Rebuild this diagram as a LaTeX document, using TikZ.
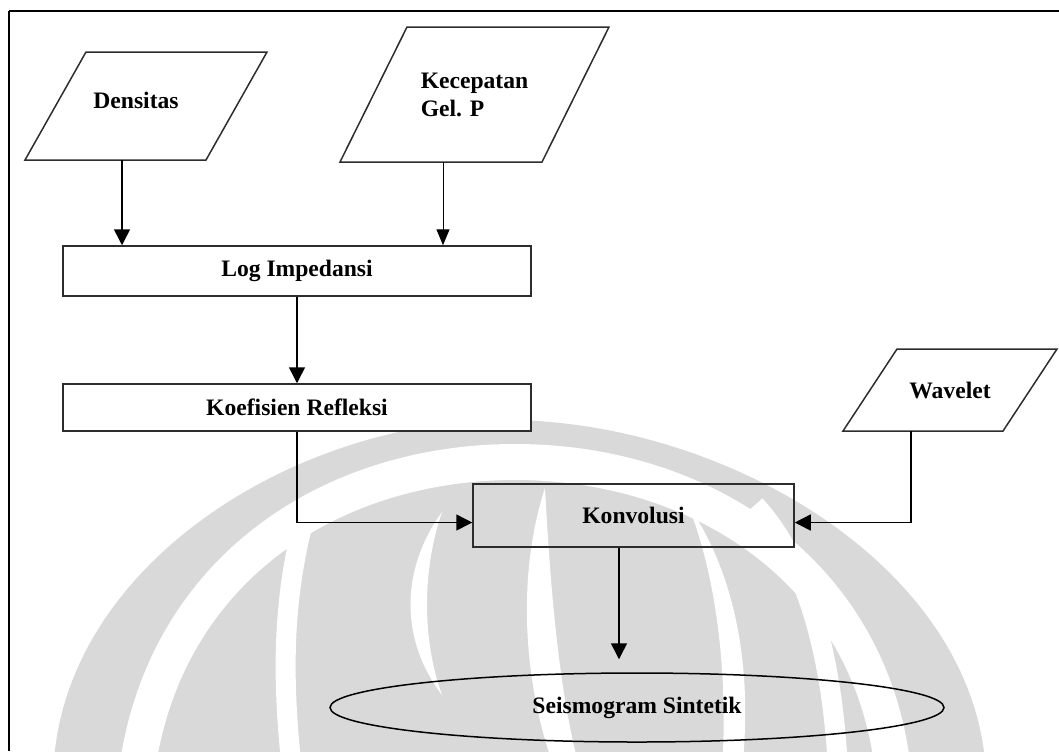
\documentclass[tikz,border=0pt]{standalone}
\usepackage{fontspec}
\setmainfont{Liberation Serif}
\usetikzlibrary{shapes.geometric,arrows.meta,calc}
\definecolor{wmgrey}{RGB}{217,217,217}
\definecolor{edgeline}{RGB}{45,45,45}

\begin{document}
\begin{tikzpicture}[x=0.5pt,y=-0.5pt,
  lbl/.style={font=\fontsize{11.8}{14}\selectfont\bfseries,text=black},
  box/.style={lbl,draw=edgeline,line width=0.75pt,rectangle,inner sep=0pt},
  paraframe/.style={lbl,rectangle,inner sep=0pt,outer sep=0pt,align=left},
  paraline/.style={draw=edgeline,line width=0.75pt,line join=miter},
  arr/.style={-{Triangle[length=8pt,width=8pt]},line width=0.75pt},
  thinarr/.style={-{Triangle[length=8pt,width=6.5pt]},line width=0.5pt},
  ]
\useasboundingbox (0,0) rectangle (1059,751);

% watermark logo in the background
\begin{scope}
\clip (0,0) rectangle (1059,751);
\fill[wmgrey] (54,760) .. controls (70,560) and (300,420) .. (505,420)
  .. controls (720,420) and (965,560) .. (985,760) -- cycle;
% outer white arch
\draw[white,line width=18pt] (137,770) .. controls (165,570) and (330,462) .. (515,462)
  .. controls (700,462) and (870,570) .. (893,770);
% side gaps
\draw[white,line width=10pt] (305,515) .. controls (282,600) and (282,680) .. (292,770);
\draw[white,line width=10pt] (755,505) .. controls (805,560) and (832,650) .. (838,770);
% inner crescents
\fill[white] (442,512) .. controls (400,570) and (400,640) .. (442,695)
  .. controls (422,640) and (422,570) .. (442,512) -- cycle;
\fill[white] (545,488) .. controls (515,580) and (525,690) .. (555,770)
  -- (580,770) .. controls (558,690) and (550,580) .. (545,488) -- cycle;
\fill[white] (688,505) .. controls (740,580) and (752,680) .. (742,770)
  -- (722,770) .. controls (728,680) and (718,580) .. (688,505) -- cycle;
\end{scope}

% frame
\draw[line width=1pt] (9,11) -- (1059,11);
\draw[line width=0.6pt] (9,11) -- (9,751);

% input data (parallelograms)
\node[paraframe,minimum width=121pt,minimum height=54pt,
  label={[lbl,name=densL,xshift=-5pt,yshift=3pt]center:Densitas}] (dens) at (146,106) {};
\draw[paraline] (dens.south west) -- ([xshift=30.5pt]dens.north west) -- (dens.north east)
  -- ([xshift=-30.5pt]dens.south east) -- cycle;

\node[paraframe,minimum width=134.5pt,minimum height=67.5pt] (kec) at (474.5,94.5) {Kecepatan\\Gel. P};
\draw[paraline] (kec.south west) -- ([xshift=33.5pt]kec.north west) -- (kec.north east)
  -- ([xshift=-33.5pt]kec.south east) -- cycle;

\node[paraframe,minimum width=107pt,minimum height=41pt] (wave) at (950,390) {Wavelet};
\draw[paraline] (wave.south west) -- ([xshift=27pt]wave.north west) -- (wave.north east)
  -- ([xshift=-27pt]wave.south east) -- cycle;

% processing steps
\node[box,fill=white,minimum width=234pt,minimum height=25pt] (logimp) at (297,271) {Log Impedansi};
\node[box,fill=white,minimum width=234pt,minimum height=23.5pt] (koef) at (297,407.5) {Koefisien Refleksi};
\node[box,minimum width=160.5pt,minimum height=31.5pt] (konv) at (633.5,515.5) {Konvolusi};
\node[lbl,draw=black,line width=0.75pt,ellipse,inner sep=0pt,minimum width=307pt,minimum height=34.5pt] (seis) at (637,707.5) {Seismogram Sintetik};

% connectors
\draw[arr] ([xshift=-12pt]dens.south) -- ([xshift=-12pt]dens.south |- logimp.north);
\draw[thinarr] ([xshift=-15.75pt]kec.south) -- ([xshift=-15.75pt]kec.south |- logimp.north);
\draw[arr] (logimp.south) -- (koef.north);
\draw[arr] (koef.south) |- ([yshift=-3.5pt]konv.west);
\draw[arr] ([xshift=-19.5pt]wave.south) |- ([yshift=-3.5pt]konv.east);
\draw[arr,shorten >=6.5pt] ([xshift=-7.25pt]konv.south) -- ([xshift=-7.25pt]konv.south |- seis.north);
\end{tikzpicture}
\end{document}
